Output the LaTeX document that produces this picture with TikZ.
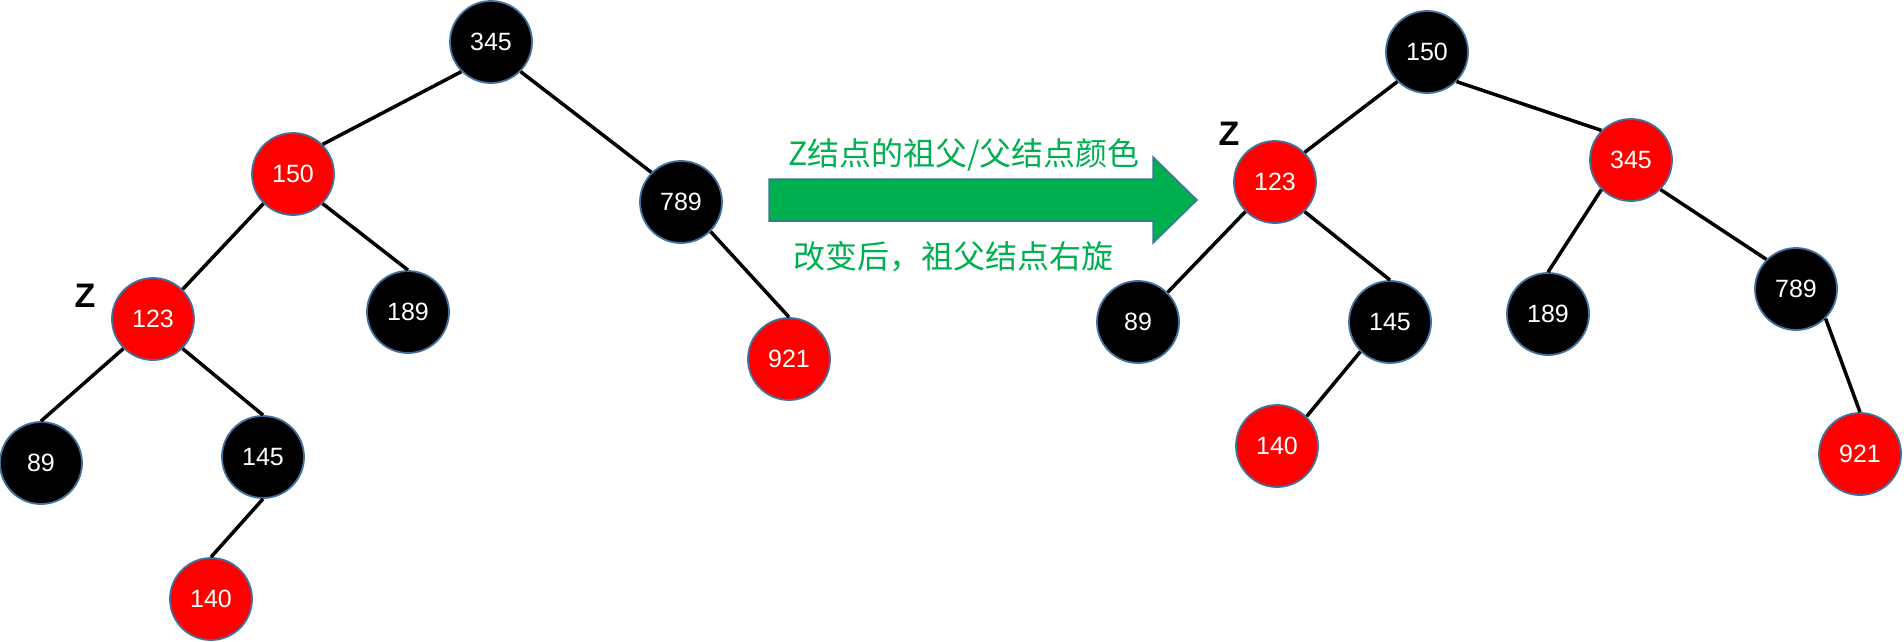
\documentclass[tikz,border=0pt]{standalone}
\usepackage{fontspec}
\setmainfont{Liberation Sans}
\newfontfamily\cjk{Noto Sans CJK SC}
\usepackage{tikz}
\usetikzlibrary{positioning}

\definecolor{rbred}{HTML}{FF0000}
\definecolor{rbedge}{HTML}{41719C}
\definecolor{rbgreen}{HTML}{00B050}

\begin{document}
\begin{tikzpicture}[x=1pt, y=-1pt,
        rb/.style={circle, draw=rbedge, line width=1.8pt, minimum size=82pt, inner sep=0pt, text=white, font=\fontsize{25}{30}\selectfont},
        blk/.style={rb, fill=black},
        rd/.style={rb, fill=rbred},
        link/.style={line width=3.5pt, black},
        zlabel/.style={font=\fontsize{34}{40}\selectfont\bfseries},
        note/.style={text=rbgreen, font=\cjk\fontsize{32}{38}\selectfont}
    ]
        \useasboundingbox (0,0) rectangle (1904,641);

        % Before
        \node[blk] (a345) at (491,42) {345};
        \node[rd]  (a150) at (293,174) {150};
        \node[blk] (a789) at (681,202) {789};
        \node[rd]  (a123) at (153,319) {123};
        \node[blk] (a189) at (408,312) {189};
        \node[rd]  (a921) at (789,359) {921};
        \node[blk] (a89)  at (41,463) {89};
        \node[blk] (a145) at (263,457) {145};
        \node[rd]  (a140) at (211,599) {140};
        \node[zlabel] (az) at (85,296) {Z};

        \draw[link] (a345.south west) -- (a150.north east);
        \draw[link] (a345.south east) -- (a789.north west);
        \draw[link] (a150.south west) -- (a123.north east);
        \draw[link] (a150.south east) -- (a189.north);
        \draw[link] (a789.south east) -- (a921.north);
        \draw[link] (a123.south west) -- (a89.north);
        \draw[link] (a123.south east) -- (a145.north);
        \draw[link] (a145.south) -- (a140.north);

        % Arrow
        \draw[fill=rbgreen, draw=rbedge, line width=1.5pt]
            (769,179) -- (1153,179) -- (1153,157) -- (1197,200) -- (1153,243) -- (1153,221) -- (769,221) -- cycle;
        \node[note] (top) at (964,155) {Z结点的祖父/父结点颜色};
        \node[note] (bot) at (953,257) {改变后，祖父结点右旋};

        % After
        \node[blk] (b150) at (1427,52) {150};
        \node[rd]  (b123) at (1275,182) {123};
        \node[rd]  (b345) at (1631,160) {345};
        \node[blk] (b89)  at (1138,322) {89};
        \node[blk] (b145) at (1390,322) {145};
        \node[blk] (b189) at (1548,314) {189};
        \node[blk] (b789) at (1796,289) {789};
        \node[rd]  (b140) at (1277,446) {140};
        \node[rd]  (b921) at (1860,454) {921};
        \node[zlabel] (bz) at (1229,134) {Z};

        \draw[link] (b150.south west) -- (b123.north east);
        \draw[link] (b150.south east) -- (b345.north west);
        \draw[link] (b123.south west) -- (b89.north east);
        \draw[link] (b123.south east) -- (b145.north);
        \draw[link] (b345.south west) -- (b189.north);
        \draw[link] (b345.south east) -- (b789.north west);
        \draw[link] (b145.south west) -- (b140.north east);
        \draw[link] (b789.south east) -- (b921.north);
\end{tikzpicture}
\end{document}
